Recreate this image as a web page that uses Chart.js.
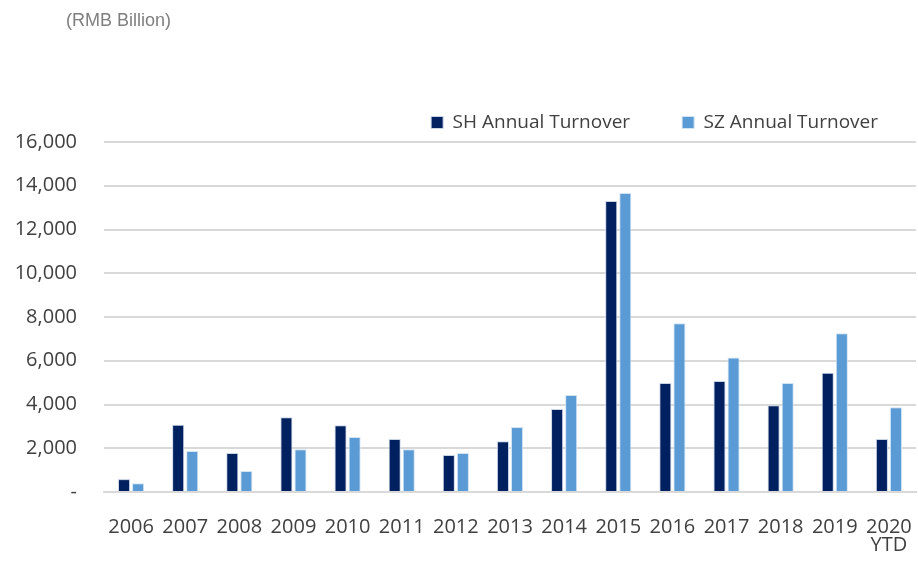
<!DOCTYPE html>
<html>
<head>
<meta charset="utf-8">
<script src="https://cdn.jsdelivr.net/npm/chart.js@4/dist/chart.umd.min.js"></script>
<style>
  html, body { margin: 0; padding: 0; background: #fff; }
  #wrap { position: relative; width: 918px; height: 563px; }
  #unit {
    position: absolute; left: 66px; top: 10px;
    font-family: "Liberation Sans", Arial, sans-serif; font-size: 18px; color: #7f7f7f;
  }
</style>
</head>
<body>
<div id="wrap">
  <div id="unit">(RMB Billion)</div>
  <canvas id="turnoverChart" width="918" height="563"></canvas>
</div>
<script>
// Annual turnover, RMB billion
const years = ["2006", "2007", "2008", "2009", "2010", "2011", "2012", "2013",
               "2014", "2015", "2016", "2017", "2018", "2019", ["2020", "YTD"]];
const shTurnover = [590, 3080, 1780, 3420, 3050, 2420, 1690, 2320,
                    3790, 13300, 4980, 5070, 3970, 5450, 2420];
const szTurnover = [400, 1870, 960, 1960, 2510, 1960, 1780, 2970,
                    4430, 13670, 7720, 6150, 4980, 7260, 3880];
const seriesNames = ["SH Annual Turnover", "SZ Annual Turnover"];

const textFont = "'Open Sans', 'Noto Sans', sans-serif";

// push the right-aligned legend a little past the plot edge
const legendShift = {
    id: "legendShift",
    afterLayout(chart) {
        chart.legend.right += 14;
    },
};

function generateTurnoverChart() {
    const ctx = document.getElementById("turnoverChart").getContext("2d");

    new Chart(ctx, {
        type: "bar",
        data: {
            labels: years,
            datasets: [
                {
                    label: seriesNames[0],
                    data: shTurnover,
                    backgroundColor: "#002060",
                    borderColor: "#c9d3e6",
                    borderWidth: 1,
                },
                {
                    label: seriesNames[1],
                    data: szTurnover,
                    backgroundColor: "#5b9bd5",
                    borderColor: "#d2e3f4",
                    borderWidth: 1,
                },
            ],
        },
        options: {
            responsive: false,
            animation: false,
            categoryPercentage: 0.52,
            barPercentage: 0.86,
            layout: {
                padding: { left: 10, right: 2, top: 61, bottom: 0 },
            },
            plugins: {
                tooltip: { enabled: false },
                legend: {
                    position: "top",
                    align: "end",
                    labels: {
                        boxWidth: 12,
                        boxHeight: 12,
                        padding: 52,
                        color: "#404040",
                        font: { family: textFont, size: 19 },
                    },
                },
            },
            scales: {
                x: {
                    grid: { display: false, drawTicks: false },
                    border: { color: "#d9d9d9", width: 2 },
                    ticks: {
                        color: "#404040",
                        font: { family: textFont, size: 20, lineHeight: 0.92 },
                        padding: 26,
                        maxRotation: 0,
                        autoSkip: false,
                    },
                    afterFit: (scale) => {
                        scale.height = 71;
                        scale.paddingLeft = 0;
                        scale.paddingRight = 0;
                    },
                },
                y: {
                    min: 0,
                    max: 16000,
                    grid: { color: "#d9d9d9", lineWidth: 2, drawTicks: false },
                    border: { display: false },
                    ticks: {
                        stepSize: 2000,
                        padding: 27,
                        color: "#404040",
                        font: { family: textFont, size: 20 },
                        callback: (value) => value === 0 ? "-" : value.toLocaleString("en-US"),
                    },
                    afterFit: (scale) => { scale.width = 94; },
                },
            },
        },
        plugins: [legendShift],
    });
}

generateTurnoverChart();
</script>
</body>
</html>
